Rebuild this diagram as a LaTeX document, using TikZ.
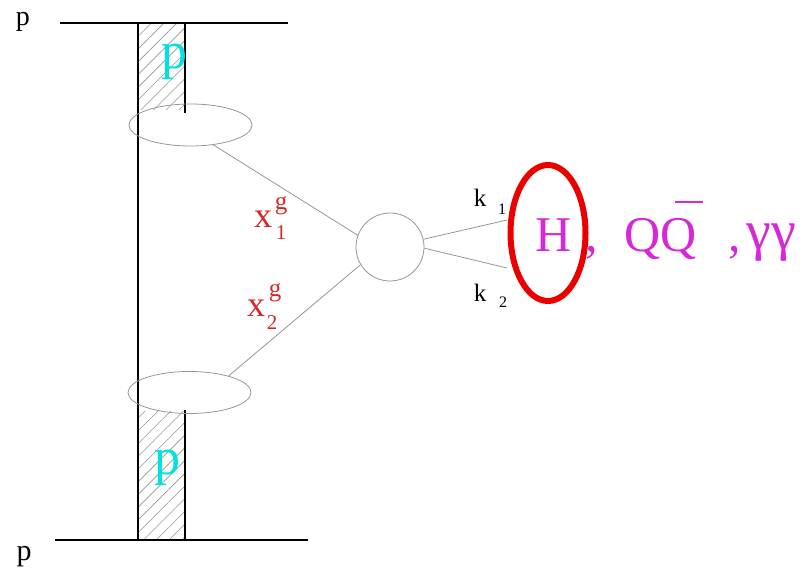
\documentclass[tikz,border=0pt]{standalone}
\usepackage{fontspec}
\setmainfont{Liberation Serif}
\usetikzlibrary{shapes.geometric,patterns.meta}
\definecolor{cyanp}{RGB}{0,225,225}
\definecolor{redx}{RGB}{210,40,40}
\definecolor{mag}{RGB}{215,40,215}
\definecolor{ringred}{RGB}{235,0,0}
\definecolor{lgray}{RGB}{150,150,150}
\begin{document}
\begin{tikzpicture}[x=1pt,y=-1pt,
  bar/.style={line width=1.6pt, black},
  blob/.style={ellipse, draw=lgray, line width=0.8pt, minimum width=123pt, minimum height=42pt, inner sep=0pt},
  vertex/.style={circle, draw=lgray, line width=0.8pt, minimum size=68pt, inner sep=0pt},
  gline/.style={draw=lgray, line width=0.8pt},
  lbl/.style={anchor=base, inner sep=0pt},
  fs/.style={font=\fontsize{#1}{#1}\selectfont},
  hatch/.style={pattern={Lines[angle=45,distance=9pt,line width=0.6pt]}, pattern color=lgray}
]
\useasboundingbox (0,0) rectangle (804,569);
% hatched proton bars
\fill[hatch] (138,23) rectangle (185,110);
\fill[hatch] (138,412) rectangle (185,540);
% proton lines
\coordinate (tl) at (60,23); \coordinate (tr) at (288,23);
\coordinate (bl) at (55,540); \coordinate (br) at (308,540);
\draw[bar] (tl) -- (tr);
\draw[bar] (bl) -- (br);
\coordinate (vt) at (138,23); \coordinate (vb) at (138,540);
\draw[bar] (vt) -- (vb);
\coordinate (rt1) at (185,23); \coordinate (rt2) at (185,113);
\coordinate (rb1) at (185,410); \coordinate (rb2) at (185,540);
\draw[bar] (rt1) -- (rt2);
\draw[bar] (rb1) -- (rb2);
% blobs and vertex
\node[blob] (e1) at (190.5,125) {};
\node[blob] (e2) at (189.5,392.5) {};
\node[vertex] (v) at (390,247) {};
\draw[gline] (e1.-41) -- (v.160);
\draw[gline] (e2.23) -- (v.211);
\coordinate (k1e) at (507,220);
\coordinate (k2e) at (507,268);
\draw[gline] (v.13) -- (k1e);
\draw[gline] (v.-2) -- (k2e);
% labels
\node[lbl,fs=28] (p1) at (23,26) {p};
\node[lbl,fs=30] (p2) at (24,560) {p};
\node[lbl,fs=52,text=cyanp] (P1) at (174,69) {p};
\node[lbl,fs=52,text=cyanp] (P2) at (167,475) {p};
\node[lbl,fs=36,text=redx] (x1) at (263,228) {x};
\node[lbl,fs=25,text=redx] (g1) at (281,209.5) {g};
\node[lbl,fs=21,text=redx] (s1) at (281,240) {1};
\node[lbl,fs=36,text=redx] (x2) at (256,317) {x};
\node[lbl,fs=25,text=redx] (g2) at (275,297) {g};
\node[lbl,fs=21,text=redx] (s2) at (272,330) {2};
\node[lbl,fs=25] (k1) at (480,207) {k};
\node[lbl,fs=16] (n1) at (502,215) {1};
\node[lbl,fs=25] (k2) at (480,302) {k};
\node[lbl,fs=16] (n2) at (503,308) {2};
\node[lbl,fs=50,text=mag] (H) at (554,252) {H};
\node[lbl,fs=50,text=mag] (c1) at (592,252) {,};
\node[lbl,fs=50,text=mag] (Q1) at (643,252) {Q};
\node[lbl,fs=50,text=mag] (Q2) at (679,252) {Q};
\coordinate (qb1) at (675,202); \coordinate (qb2) at (703,202);
\draw[mag, line width=1.8pt] (qb1) -- (qb2);
\node[lbl,fs=50,text=mag] (c2) at (735,252) {,};
\node[lbl,fs=56,text=mag] (gg) at (771,250) {γγ};
% highlight ring
\node[ellipse, draw=ringred, line width=6pt, minimum width=75pt, minimum height=136pt, inner sep=0pt] (ring) at (548,233) {};
\end{tikzpicture}
\end{document}
